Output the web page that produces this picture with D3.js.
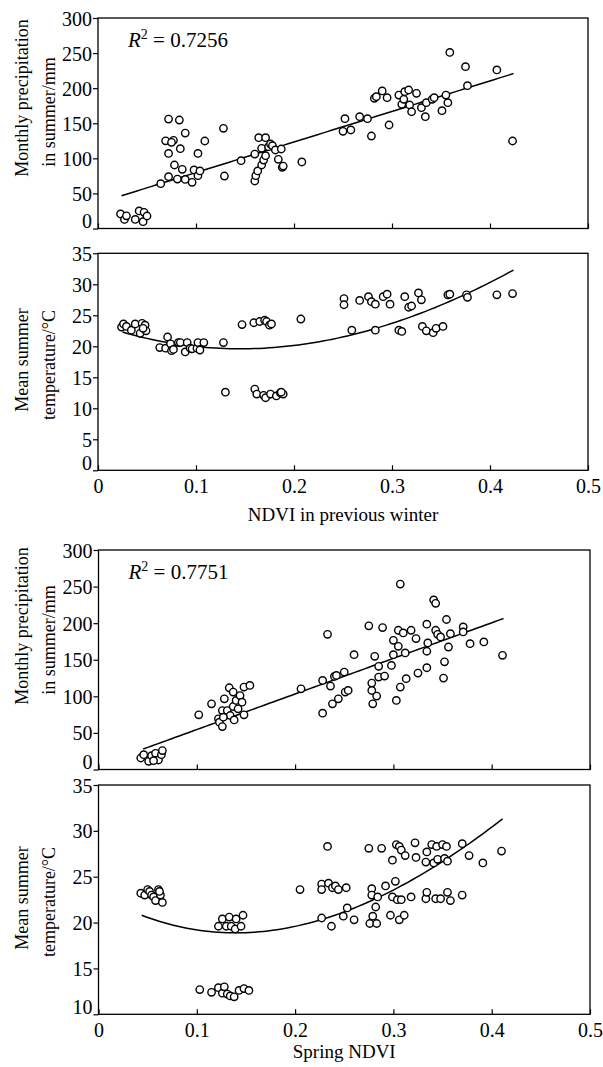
<!DOCTYPE html>
<html>
<head>
<meta charset="utf-8">
<script src="https://cdn.jsdelivr.net/npm/d3@7"></script>
<style>
  html, body { margin: 0; padding: 0; background: #fff; }
  svg { display: block; }
  text { font-family: "Liberation Serif", "Times New Roman", serif; fill: #000; }
</style>
</head>
<body>
<svg id="chart" width="603" height="1067"></svg>
<script>
// ---------------- DATA ----------------
const ndviTicks = [0, 0.1, 0.2, 0.3, 0.4, 0.5];
const precipTicks = [0, 50, 100, 150, 200, 250, 300];
const tempTicksTop = [0, 5, 10, 15, 20, 25, 30, 35];
const tempTicksBottom = [10, 15, 20, 25, 30, 35];

// Panel 1: NDVI in previous winter vs monthly summer precipitation
const winterNdviP = [0.023,0.027,0.029,0.038,0.042,0.046,0.047,0.050,
  0.064,0.072,0.072,0.083,0.069,0.077,0.075,0.072,0.089,0.084,0.078,0.086,0.081,0.089,0.096,0.098,0.102,0.104,0.102,0.109,0.128,0.129,
  0.146,0.160,0.160,0.161,0.163,0.164,0.167,0.169,0.167,0.171,0.171,0.174,0.176,0.178,0.181,0.184,0.187,0.188,0.189,0.208,
  0.252,0.250,0.258,0.267,0.275,0.279,0.282,0.284,0.290,0.295,0.297,0.307,0.310,0.312,0.313,0.317,0.318,0.320,0.325,0.330,
  0.334,0.335,0.341,0.343,0.351,0.355,0.357,0.359,0.375,0.377,0.407,0.423];
const precipW = [20.7,13,18,13,25,9.7,23,17.8,
  63.9,73.9,156,154.6,125,125.6,122.8,107,136,113.8,90.5,84.3,70.5,70,65.8,83.4,75.3,82,107,124.7,142.7,74.8,
  96.6,106,67.7,75.3,82,129.4,90.5,97.6,114.3,129.4,103.8,116.6,120.4,118,111.9,98.6,113.3,87.2,89,94.8,
  156.5,138.5,140.4,159.3,156.5,131.8,185.5,187.8,196,186.4,147.5,190.2,177,184.1,195,197.4,176,166.4,192.7,172.2,
  159.3,179.3,184.1,186.4,167.9,190.2,179.3,251,230.6,203.5,226,124.7];

// Panel 2: NDVI in previous winter vs mean summer temperature
const winterNdviT = [0.024,0.026,0.029,0.034,0.038,0.043,0.045,0.048,0.049,0.046,
  0.063,0.071,0.069,0.074,0.075,0.077,0.082,0.084,0.089,0.091,0.094,0.096,0.101,0.102,0.104,0.108,0.128,
  0.130,0.160,0.162,0.169,0.171,0.176,0.182,0.186,0.189,0.187,
  0.147,0.159,0.165,0.170,0.172,0.175,0.177,0.207,
  0.251,0.251,0.259,0.267,0.276,0.279,0.283,0.283,0.291,0.295,0.298,0.307,0.310,0.313,0.317,0.320,
  0.327,0.330,0.331,0.335,0.342,0.345,0.352,0.357,0.359,0.376,0.377,0.407,0.423];
const tempW = [23.1,23.6,23.2,22.6,23.6,22.1,23.7,23.4,22.5,22.9,
  19.8,21.5,19.7,20.4,19.3,19.5,20.6,20.6,19.1,20.6,19.7,19.6,19.7,20.6,19.4,20.6,20.6,
  12.6,13.1,12.3,12.1,11.7,12.3,12.0,12.5,12.3,12.6,
  23.5,23.8,24.0,24.2,24.0,23.4,23.6,24.4,
  27.7,26.7,22.6,27.4,28.0,27.2,26.8,22.6,28.0,28.4,26.8,22.6,22.4,28.0,26.3,26.5,
  28.6,27.5,23.2,22.5,22.2,22.9,23.2,28.3,28.4,28.3,27.9,28.3,28.5];

// Panel 3: spring NDVI vs monthly summer precipitation
const springNdviP = [0.043,0.046,0.051,0.054,0.058,0.061,0.064,0.065,0.056,
  0.102,0.115,0.122,0.123,0.126,0.126,0.128,0.131,0.133,0.134,0.137,0.137,0.138,0.140,0.142,0.144,0.146,0.148,0.148,0.154,0.127,
  0.206,0.228,0.228,0.233,0.236,0.238,0.240,0.242,0.244,0.250,0.251,0.254,0.260,
  0.275,0.281,0.278,0.278,0.279,0.283,0.285,0.285,0.289,0.291,0.298,0.300,0.300,0.303,0.305,0.305,0.307,0.307,
  0.310,0.312,0.313,0.318,0.323,0.325,0.334,0.334,0.335,0.334,0.341,0.343,0.343,0.345,0.348,0.354,0.352,0.351,
  0.356,0.358,0.371,0.371,0.378,0.392,0.411];
const precipS = [15.7,20.3,11.2,18.9,22.1,13,20.3,25.8,12.1,
  74.7,89.8,69.2,64.6,58.7,80.6,96.6,80.6,111.7,73.8,105.8,86.1,67.8,94.4,82.9,101.1,92,112.6,74.7,114.9,71.5,
  110.3,121.8,77,184.8,114,89.8,127.2,128.6,96.6,133.2,105.8,108,157,
  196.3,154.7,118.1,108,89.8,100.3,141,126.3,194,127.7,142.3,176.6,157,94.4,190.3,168.4,253.4,112.6,
  186.6,159.3,124.1,190.3,178.9,131.8,198.6,161.6,173,139.1,231.7,227.1,190.3,184.8,181.2,205,147.2,124.9,
  167.4,185.7,194.9,188,172,174.4,156.1];

// Panel 4: spring NDVI vs mean summer temperature
const springNdviT = [0.043,0.047,0.050,0.052,0.054,0.056,0.058,0.061,0.063,0.065,0.062,
  0.122,0.126,0.130,0.133,0.135,0.139,0.140,0.145,0.147,
  0.103,0.115,0.122,0.126,0.128,0.131,0.134,0.138,0.143,0.148,0.153,
  0.205,0.227,0.227,0.227,0.233,0.234,0.237,0.238,0.241,0.244,0.249,0.252,0.253,0.260,
  0.275,0.288,0.278,0.278,0.282,0.284,0.279,0.276,0.283,0.292,0.297,0.299,0.299,0.302,0.303,0.304,0.306,0.306,
  0.308,0.308,0.311,0.312,0.318,0.322,0.323,0.333,0.333,0.334,0.334,0.339,0.341,0.343,0.344,0.345,0.348,
  0.350,0.352,0.354,0.355,0.355,0.358,0.370,0.370,0.377,0.391,0.410];
const tempS = [23.2,23.0,23.6,23.4,23.0,22.8,22.4,23.6,23.0,22.2,23.4,
  19.6,20.4,19.6,20.6,19.6,19.3,20.4,19.6,20.8,
  12.7,12.4,12.9,12.3,13.0,12.2,12.0,11.9,12.6,12.8,12.6,
  23.6,24.2,23.6,20.5,28.3,24.3,19.6,23.8,24.0,23.6,20.7,23.8,21.6,20.3,
  28.1,28.1,23.7,23.0,21.7,22.8,20.7,19.9,19.9,24.0,20.8,22.8,26.8,24.5,28.5,22.5,28.3,20.3,
  27.9,22.5,20.8,27.3,22.8,28.7,27.1,22.6,26.6,27.7,23.3,28.5,26.5,22.6,28.3,26.9,22.6,
  28.5,27.0,28.3,26.7,23.3,22.4,28.6,23.0,27.3,26.5,27.8];

// Fitted trends (polynomial coefficients, constant term first) and x extents
const fitWinterP = [36.2, 435.4];
const fitWinterT = [23.577, -56.205, 207.2, -61.6];
const fitSpringP = [5.9, 486.5];
const fitSpringT = [23.08, -62.48, 248.12, -115.4];
const fitRangeWinterP = [0.024, 0.424];
const fitRangeWinterT = [0.025, 0.424];
const fitRangeSpringP = [0.0455, 0.412];
const fitRangeSpringT = [0.044, 0.411];

const r2Labels = ["0.7256", "0.7751"];
const yTitles = [["Monthly precipitation", "in summer/mm"], ["Mean summer", "temperature/°C"]];
const xTitles = ["NDVI in previous winter", "Spring NDVI"];

// ---------------- LAYOUT ----------------
const svg = d3.select("#chart");
const panels = [
  {left: 98, right: 588, top: 18, bottom: 228.5, ydom: [0, 300], yt: precipTicks,
   xs: winterNdviP, ys: precipW, fit: fitWinterP, fr: fitRangeWinterP, r2: r2Labels[0],
   title: yTitles[0], tc: [98, 112], xLab: false},
  {left: 98, right: 588, top: 253.3, bottom: 470.3, ydom: [0, 35], yt: tempTicksTop,
   xs: winterNdviT, ys: tempW, fit: fitWinterT, fr: fitRangeWinterT, r2: null,
   title: yTitles[1], tc: [360, 365], xLab: true, xTitle: xTitles[0], xTitleY: 521},
  {left: 98.5, right: 590, top: 550, bottom: 769.5, ydom: [0, 300], yt: precipTicks,
   xs: springNdviP, ys: precipS, fit: fitSpringP, fr: fitRangeSpringP, r2: r2Labels[1],
   title: yTitles[0], tc: [626, 640], xLab: false},
  {left: 98.5, right: 590, top: 785, bottom: 1014.3, ydom: [10, 35], yt: tempTicksBottom,
   xs: springNdviT, ys: tempS, fit: fitSpringT, fr: fitRangeSpringT, r2: null,
   title: yTitles[1], tc: [898, 902], xLab: true, xTitle: xTitles[1], xTitleY: 1058}
];

function poly(c, x) { let v = 0; for (let i = c.length - 1; i >= 0; i--) v = v * x + c[i]; return v; }

panels.forEach(p => {
  const x = d3.scaleLinear().domain([0, 0.5]).range([p.left, p.right]);
  const y = d3.scaleLinear().domain(p.ydom).range([p.bottom, p.top]);
  const g = svg.append("g");

  // y axis (outward ticks)
  const ya = g.append("g").attr("transform", `translate(${p.left},0)`)
    .call(d3.axisLeft(y).tickValues(p.yt).tickSize(5).tickPadding(1).tickFormat(d => String(d)));
  ya.select(".domain").remove();
  ya.selectAll("line").attr("stroke", "#000").attr("stroke-width", 1.2);
  ya.selectAll("text").attr("font-size", 20).attr("font-family", "Liberation Serif, serif")
    .attr("dy", d => d === p.ydom[0] ? "-0.05em" : "0.35em");

  // x axis (inward ticks)
  const xa = g.append("g").attr("transform", `translate(0,${p.bottom})`)
    .call(d3.axisBottom(x).tickValues(ndviTicks).tickSize(-5).tickPadding(9)
      .tickFormat(d => p.xLab ? String(d) : ""));
  xa.select(".domain").remove();
  xa.selectAll("line").attr("stroke", "#000").attr("stroke-width", 1.2);
  xa.selectAll("text").attr("font-size", 20).attr("font-family", "Liberation Serif, serif");

  // frame
  g.append("rect").attr("x", p.left).attr("y", p.top)
    .attr("width", p.right - p.left).attr("height", p.bottom - p.top)
    .attr("fill", "none").attr("stroke", "#000").attr("stroke-width", 1.3);

  // fit line
  const xsFit = d3.range(p.fr[0], p.fr[1] + 1e-9, (p.fr[1] - p.fr[0]) / 80);
  g.append("path").datum(xsFit)
    .attr("d", d3.line().x(d => x(d)).y(d => y(poly(p.fit, d))))
    .attr("fill", "none").attr("stroke", "#000").attr("stroke-width", 1.5);

  // points
  g.append("g").selectAll("circle").data(p.xs.map((v, i) => [v, p.ys[i]])).join("circle")
    .attr("cx", d => x(d[0])).attr("cy", d => y(d[1])).attr("r", 3.7)
    .attr("fill", "#fff").attr("stroke", "#000").attr("stroke-width", 1.4);

  // R^2 label
  if (p.r2) {
    const t = g.append("text").attr("x", p.left + 30).attr("y", p.top + 29).attr("font-size", 21);
    t.append("tspan").attr("font-style", "italic").text("R");
    t.append("tspan").attr("dy", -8).attr("font-size", 14).text("2");
    t.append("tspan").attr("dy", 8).text(" = " + p.r2);
  }

  // y title (two rotated lines)
  g.append("text").attr("transform", `translate(22,${p.tc[0]}) rotate(-90)`)
    .attr("text-anchor", "middle").attr("dominant-baseline", "central").attr("font-size", 18).text(p.title[0]);
  g.append("text").attr("transform", `translate(49,${p.tc[1]}) rotate(-90)`)
    .attr("text-anchor", "middle").attr("dominant-baseline", "central").attr("font-size", 18).text(p.title[1]);

  // x title
  if (p.xTitle) {
    g.append("text").attr("x", (p.left + p.right) / 2).attr("y", p.xTitleY)
      .attr("text-anchor", "middle").attr("font-size", 19).text(p.xTitle);
  }
});
</script>
</body>
</html>
